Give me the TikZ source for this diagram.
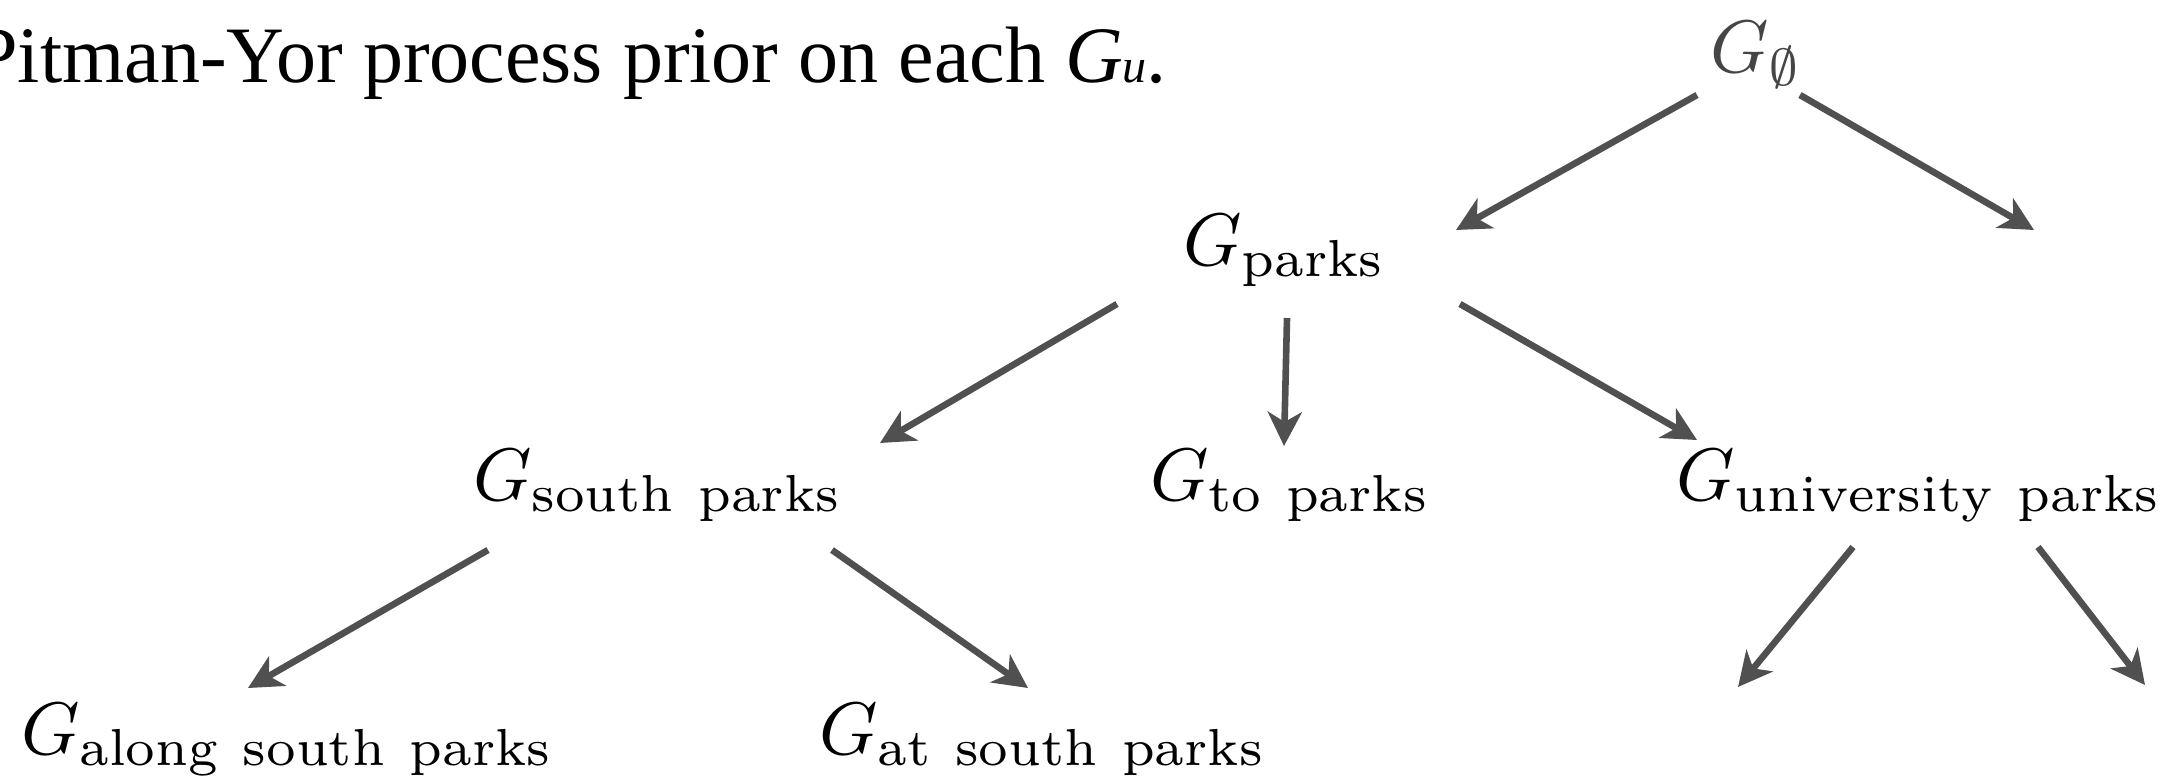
\documentclass[tikz,border=0pt]{standalone}
\usepackage{fontspec}
\newfontfamily\timesf{Liberation Serif}
\usetikzlibrary{arrows.meta}
\definecolor{arrgray}{HTML}{505050}
\definecolor{rootgray}{HTML}{454545}
\begin{document}
\begin{tikzpicture}[x=0.5pt,y=-0.5pt,
  lab/.style={inner sep=0pt, outer sep=0pt, anchor=base west, scale=3.72},
  arr/.style={draw=arrgray, line width=3.3pt, -{Stealth[length=17pt,width=17pt,inset=5pt]}}]
\useasboundingbox (0,0) rectangle (2184,776);
\node[anchor=base west, inner sep=0pt, font=\timesf\fontsize{40}{44}\selectfont] (title) at (-27,82)
  {Pitman-Yor process prior on each {\itshape G}{\fontsize{24}{24}\selectfont\itshape u}.};
\node[lab, text=rootgray] (root) at (1710,72) {$G_\emptyset$};
\node[lab] (gpk) at (1183,265) {$G_{\mathrm{parks}}$};
\node[lab] (gsp) at (473,500) {$G_{\mathrm{south\ parks}}$};
\node[lab] (gto) at (1150,500) {$G_{\mathrm{to\ parks}}$};
\node[lab] (gun) at (1676,500) {$G_{\mathrm{university\ parks}}$};
\node[lab] (gal) at (21,754) {$G_{\mathrm{along\ south\ parks}}$};
\node[lab] (gat) at (819,754) {$G_{\mathrm{at\ south\ parks}}$};
\coordinate (c1) at (2034,230);
\coordinate (c2) at (1738,687);
\coordinate (c3) at (2145,685);
\draw[arr] ([shift={(-13,23)}]root.base west) -- ([shift={(273,-35)}]gpk.base west);
\draw[arr] ([shift={(90,23)}]root.base west) -- (c1);
\draw[arr] ([shift={(-66,39)}]gpk.base west) -- ([shift={(407,-57)}]gsp.base west);
\draw[arr] ([shift={(104,53)}]gpk.base west) -- ([shift={(134,-54)}]gto.base west);
\draw[arr] ([shift={(277,39)}]gpk.base west) -- ([shift={(21,-60)}]gun.base west);
\draw[arr] ([shift={(15,50)}]gsp.base west) -- ([shift={(227,-66)}]gal.base west);
\draw[arr] ([shift={(359,50)}]gsp.base west) -- ([shift={(209,-66)}]gat.base west);
\draw[arr] ([shift={(177,47)}]gun.base west) -- (c2);
\draw[arr] ([shift={(362,47)}]gun.base west) -- (c3);
\end{tikzpicture}
\end{document}
